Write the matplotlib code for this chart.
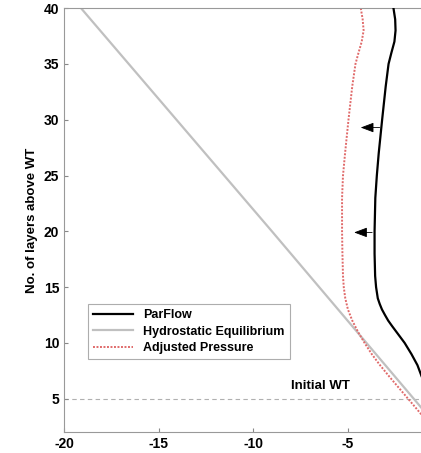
import matplotlib
matplotlib.use("Agg")
import matplotlib.pyplot as plt

# layers above the water table (y) and pressure head (x)
layers_parflow = [40, 39, 38, 37, 36, 35, 33, 30, 27, 25, 23, 20, 18, 16, 15, 14, 13.5, 13, 12.5, 12, 11.5, 11,
                  10.5, 10, 9, 8, 7, 6.5]
head_parflow = [-2.57, -2.48, -2.46, -2.52, -2.68, -2.83, -2.98, -3.17, -3.35, -3.45, -3.53, -3.57, -3.57,
                -3.54, -3.49, -3.4, -3.3, -3.18, -3.02, -2.85, -2.64, -2.42, -2.2, -1.98, -1.62, -1.3, -1.08, -0.95]

layers_hydro = [40, 30, 20, 10, 5, 3]
head_hydro = [-19.1, -14.05, -9.0, -4.0, -1.5, -0.5]

layers_adjusted = [40, 39, 38, 37, 36, 35, 33, 30, 27, 25, 23, 20, 18, 16, 15, 14, 13, 12, 11, 10, 9, 8, 7, 6,
                   5, 4, 3.5]
head_adjusted = [-4.3, -4.2, -4.15, -4.25, -4.42, -4.58, -4.75, -4.95, -5.13, -5.24, -5.29, -5.29, -5.27,
                 -5.24, -5.2, -5.12, -4.98, -4.75, -4.45, -4.1, -3.72, -3.28, -2.8, -2.3, -1.8, -1.3, -1.05]

arrows = [(-3.15, -4.45, 29.3), (-3.55, -4.8, 19.9)]  # (tail x, head x, y)

plt.rcParams["font.family"] = ["Liberation Sans", "DejaVu Sans"]
plt.rcParams["font.weight"] = "bold"
plt.rcParams["axes.unicode_minus"] = False

fig = plt.figure(figsize=(4.21, 4.53), dpi=100)
ax = fig.add_axes([0.152, 0.046, 0.898, 0.936])

ax.axhline(5, color="#b0b0b0", linestyle=(0, (4, 3)), lw=0.8, zorder=1)
ax.plot(head_parflow, layers_parflow, color="black", lw=1.6, label="ParFlow", zorder=3)
ax.plot(head_hydro, layers_hydro, color="#c0c0c0", lw=1.6, label="Hydrostatic Equilibrium", zorder=2)
ax.plot(head_adjusted, layers_adjusted, color="#e06a6a", lw=1.4, linestyle=(0, (1, 0.8)),
        label="Adjusted Pressure", zorder=2)

for x0, x1, yv in arrows:
    ax.annotate("", xy=(x1, yv), xytext=(x0, yv),
                arrowprops=dict(arrowstyle="-|>,head_length=0.8,head_width=0.3",
                                color="black", lw=0.6))

ax.text(-8.0, 6.1, "Initial WT", fontsize=9.5, fontweight="bold", ha="left", va="center")

ax.set_xlim(-20, 0)
ax.set_ylim(2, 40)
ax.set_xticks([-20, -15, -10, -5])
ax.set_yticks([5, 10, 15, 20, 25, 30, 35, 40])
ax.tick_params(direction="in", length=3, labelsize=10, color="#888888")
for lab in ax.get_xticklabels() + ax.get_yticklabels():
    lab.set_fontweight("bold")
for sp in ax.spines.values():
    sp.set_color("#999999")
ax.set_ylabel("No. of layers above WT", fontsize=9.5, fontweight="bold", labelpad=4)

leg = ax.legend(loc="upper left", bbox_to_anchor=(0.048, 0.316), handlelength=3.2,
                frameon=True, fancybox=False, edgecolor="#999999", borderpad=0.4,
                labelspacing=0.35, prop={"weight": "bold", "size": 9})
leg.get_frame().set_linewidth(0.8)

fig.savefig("out.png", dpi=100)
